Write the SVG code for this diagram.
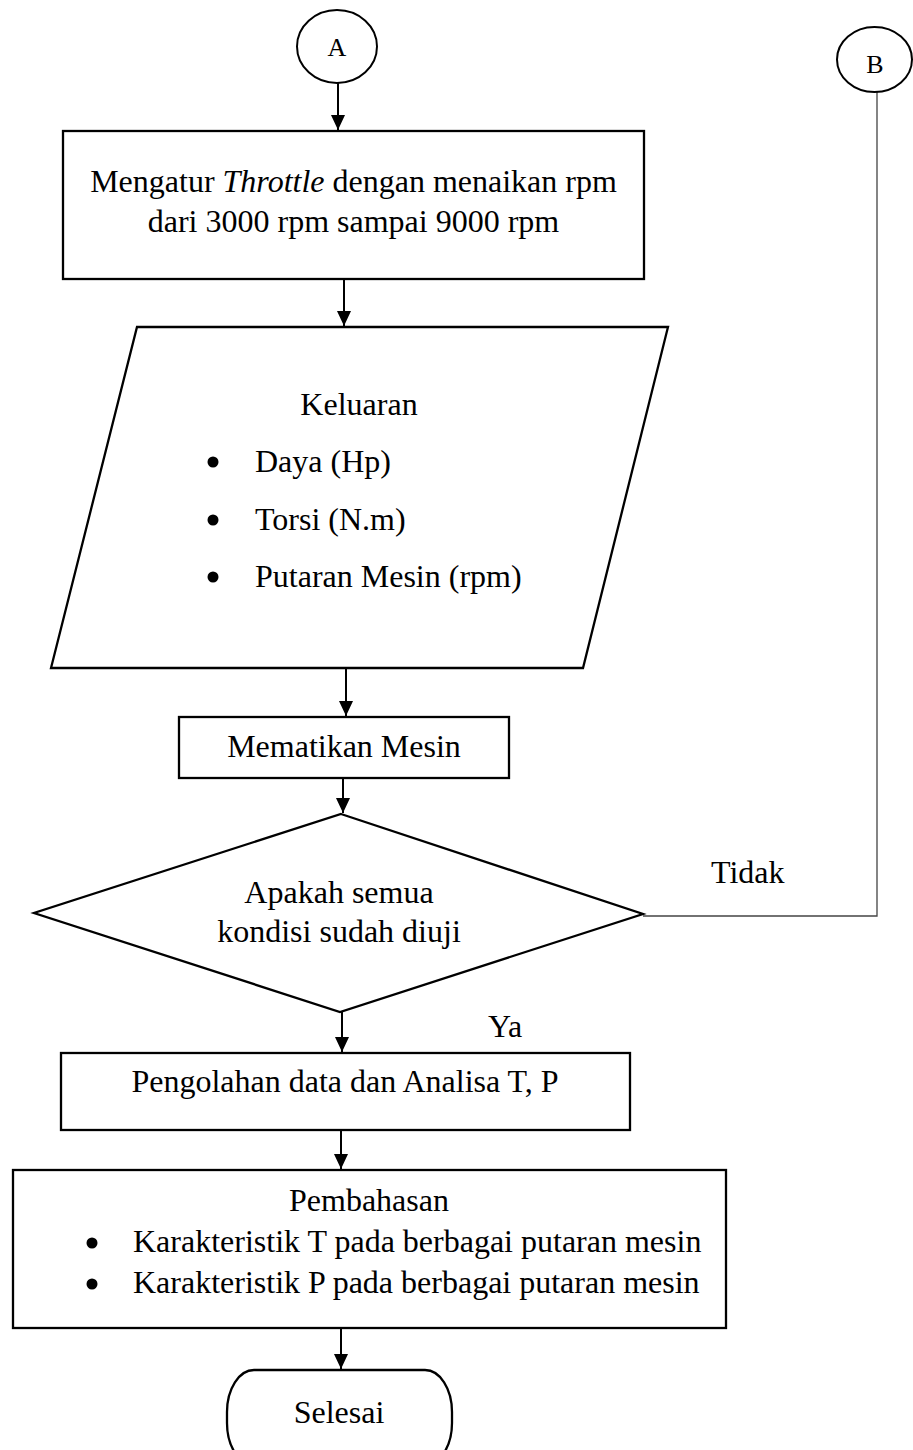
<svg xmlns="http://www.w3.org/2000/svg" width="913" height="1450" viewBox="0 0 913 1450">
<style>
.shape{fill:#fff;stroke:#000;stroke-width:2.3}
.circ{fill:#fff;stroke:#000;stroke-width:2}
.t{font-family:"Liberation Serif","Times New Roman",serif;font-size:32px;fill:#000}
.ts{font-family:"Liberation Serif","Times New Roman",serif;font-size:26px;fill:#000}
.c{text-anchor:middle}
.conn{stroke:#000;stroke-width:2;fill:none}
.thin{stroke:#444;stroke-width:1.3;fill:none}
.dot{fill:#000}
</style>
<defs>
<marker id="arr" markerUnits="userSpaceOnUse" markerWidth="14" markerHeight="15" viewBox="0 0 14 15" refX="7" refY="15" orient="0">
<path d="M0,0 L14,0 L7,15 z" fill="#000"/>
</marker>
</defs>

<g id="connectors">
<line class="conn" x1="338" y1="83" x2="338" y2="130" marker-end="url(#arr)"/>
<line class="conn" x1="344" y1="279" x2="344" y2="326" marker-end="url(#arr)"/>
<line class="conn" x1="346" y1="668" x2="346" y2="716" marker-end="url(#arr)"/>
<line class="conn" x1="343" y1="778" x2="343" y2="813" marker-end="url(#arr)"/>
<line class="conn" x1="342" y1="1012" x2="342" y2="1052" marker-end="url(#arr)"/>
<line class="conn" x1="341" y1="1130" x2="341" y2="1169" marker-end="url(#arr)"/>
<line class="conn" x1="341" y1="1328" x2="341" y2="1369" marker-end="url(#arr)"/>
<polyline class="thin" points="643,916 877,916 877,92"/>
<text class="t" x="711" y="883">Tidak</text>
<text class="t" x="488" y="1037">Ya</text>
</g>

<g id="node-A">
<ellipse class="circ" cx="337" cy="46.5" rx="40" ry="36.5"/>
<text class="ts c" x="337" y="56">A</text>
</g>

<g id="node-B">
<ellipse class="circ" cx="874.5" cy="59.5" rx="37.5" ry="32.5"/>
<text class="ts c" x="875" y="73">B</text>
</g>

<g id="node-throttle">
<rect class="shape" x="63" y="131" width="581" height="148"/>
<text class="t c" x="353.5" y="192">Mengatur <tspan font-style="italic">Throttle</tspan> dengan menaikan rpm</text>
<text class="t c" x="353.5" y="232">dari 3000 rpm sampai 9000 rpm</text>
</g>

<g id="node-keluaran">
<polygon class="shape" points="137,327 668,327 583,668 51,668"/>
<text class="t c" x="359" y="415">Keluaran</text>
<circle class="dot" cx="213" cy="462" r="5.5"/>
<text class="t" x="255" y="472">Daya (Hp)</text>
<circle class="dot" cx="213" cy="520" r="5.5"/>
<text class="t" x="255" y="530">Torsi (N.m)</text>
<circle class="dot" cx="213" cy="577" r="5.5"/>
<text class="t" x="255" y="587">Putaran Mesin (rpm)</text>
</g>

<g id="node-mematikan">
<rect class="shape" x="179" y="717" width="330" height="61"/>
<text class="t c" x="344" y="757">Mematikan Mesin</text>
</g>

<g id="node-decision">
<polygon class="shape" points="341,814 643,914 340,1012 34,913"/>
<text class="t c" x="339" y="903">Apakah semua</text>
<text class="t c" x="339" y="942">kondisi sudah diuji</text>
</g>

<g id="node-pengolahan">
<rect class="shape" x="61" y="1053" width="569" height="77"/>
<text class="t c" x="345" y="1092">Pengolahan data dan Analisa T, P</text>
</g>

<g id="node-pembahasan">
<rect class="shape" x="13" y="1170" width="713" height="158"/>
<text class="t c" x="369" y="1211">Pembahasan</text>
<circle class="dot" cx="92" cy="1243" r="5.5"/>
<text class="t" x="133" y="1252">Karakteristik T pada berbagai putaran mesin</text>
<circle class="dot" cx="92" cy="1284" r="5.5"/>
<text class="t" x="133" y="1293">Karakteristik P pada berbagai putaran mesin</text>
</g>

<g id="node-selesai">
<rect class="shape" x="227" y="1370" width="225" height="95" rx="27" ry="42"/>
<text class="t c" x="339" y="1423">Selesai</text>
</g>
</svg>
